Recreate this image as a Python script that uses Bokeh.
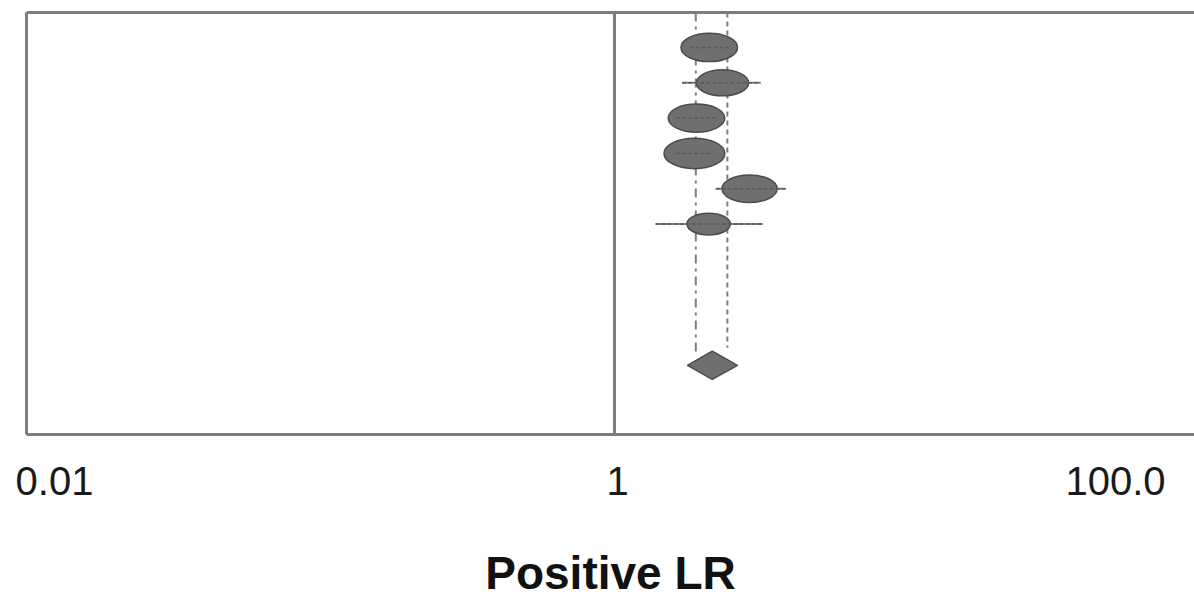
import math
from bokeh.plotting import figure
from bokeh.models import (Range1d, Span, LinearAxis, FixedTicker, ColumnDataSource,
                          CustomJSTickFormatter)
from bokeh.embed import file_html
from bokeh.resources import INLINE

# Study-level positive likelihood ratios (point estimate and 95% CI)
study_row = [0, 1, 2, 3, 4, 5]
lr_est = [2.10, 2.33, 1.90, 1.87, 2.88, 2.09]
lr_low = [1.80, 1.70, 1.62, 1.62, 2.21, 1.38]
lr_high = [2.45, 3.14, 2.22, 2.15, 3.82, 3.19]
weight = [19.5, 18.0, 19.5, 21.0, 19.0, 15.0]

# Pooled estimate and the band shown by the dashed guides
pooled_row = 9
pooled_est = 2.15
pooled_low = 1.77
pooled_high = 2.62
band_low = 1.89
band_high = 2.42

tick_values = [0.01, 1, 100]
tick_labels = ["0.01", "1", "100.0"]

GRAY = "#7d7d7d"
MARK = "#6f6f6f"
EDGE = "#4c4c4c"
FONT = "Liberation Sans"

WIDTH, HEIGHT = 1194, 601
LEFT, TOP, BOTTOM = 26, 12, 166
X_START, X_END = 0.01, 93.9
Y_TOP, Y_BOTTOM = -0.99, 10.96

p = figure(
    width=WIDTH, height=HEIGHT,
    x_axis_type="log",
    x_range=Range1d(X_START, X_END),
    y_range=Range1d(Y_BOTTOM, Y_TOP),
    output_backend="svg", toolbar_location=None,
    min_border_left=LEFT, min_border_right=0, min_border_top=TOP, min_border_bottom=BOTTOM,
)
p.outline_line_color = None
p.grid.visible = False
p.background_fill_color = "white"
p.border_fill_color = "white"


def bare(axis):
    # an axis reduced to its line, used for the frame edges
    axis.ticker = FixedTicker(ticks=[])
    axis.major_tick_line_color = None
    axis.minor_tick_line_color = None
    axis.major_tick_out = 0
    axis.minor_tick_out = 0
    axis.major_label_standoff = 0
    axis.axis_line_color = GRAY
    axis.axis_line_width = 3


left_axis = p.left[0]
bottom_axis = p.below[0]
bare(left_axis)
bare(bottom_axis)
top_axis = LinearAxis()
bare(top_axis)
p.add_layout(top_axis, "above")

# Tick labels: the outer two are pulled in so they sit inside the canvas
px_per_decade = (WIDTH - LEFT) / math.log10(X_END / X_START)
label_nudge_px = [28, 3, -87]
label_anchor = [v * 10 ** (n / px_per_decade) for v, n in zip(tick_values, label_nudge_px)]
bottom_axis.ticker = FixedTicker(ticks=label_anchor)
bottom_axis.formatter = CustomJSTickFormatter(args=dict(labels=tick_labels),
                                              code="return labels[index]")
bottom_axis.major_label_text_font = FONT
bottom_axis.major_label_text_font_size = "40px"
bottom_axis.major_label_text_color = "#1a1a1a"
bottom_axis.major_label_standoff = 32

bottom_axis.axis_label = "Positive LR"
bottom_axis.axis_label_text_font = FONT
bottom_axis.axis_label_text_font_size = "46px"
bottom_axis.axis_label_text_font_style = "bold"
bottom_axis.axis_label_text_color = "#111111"
bottom_axis.axis_label_standoff = 49

# Line of no effect
p.add_layout(Span(location=1, dimension="height", line_color=GRAY, line_width=3))

# Dashed guides for the pooled band
p.segment(x0=[band_low], y0=[Y_TOP], x1=[band_low], y1=[pooled_row - 0.3],
          line_color=GRAY, line_width=2, line_dash="9 5 3 5")
p.segment(x0=[band_high], y0=[Y_TOP], x1=[band_high], y1=[pooled_row - 0.5],
          line_color=GRAY, line_width=2, line_dash="5 4")

src = ColumnDataSource(dict(
    y=study_row, est=lr_est, lo=lr_low, hi=lr_high,
    w=[2.9 * v for v in weight], h=[1.45 * v for v in weight],
))
p.segment(x0="lo", y0="y", x1="hi", y1="y", source=src, line_color="#808080", line_width=2)
p.ellipse(x="est", y="y", width="w", height="h", width_units="screen", height_units="screen",
          source=src, fill_color=MARK, line_color=EDGE, line_width=1.5)
p.segment(x0="lo", y0="y", x1="hi", y1="y", source=src, line_color="#5a5a5a", line_width=1.5,
          line_dash="4 2")

# Pooled diamond
half = 0.4
p.patch(x=[pooled_low, pooled_est, pooled_high, pooled_est],
        y=[pooled_row, pooled_row - half, pooled_row, pooled_row + half],
        fill_color=MARK, line_color=EDGE, line_width=1.5)

open("out.html", "w").write(file_html(p, INLINE))
